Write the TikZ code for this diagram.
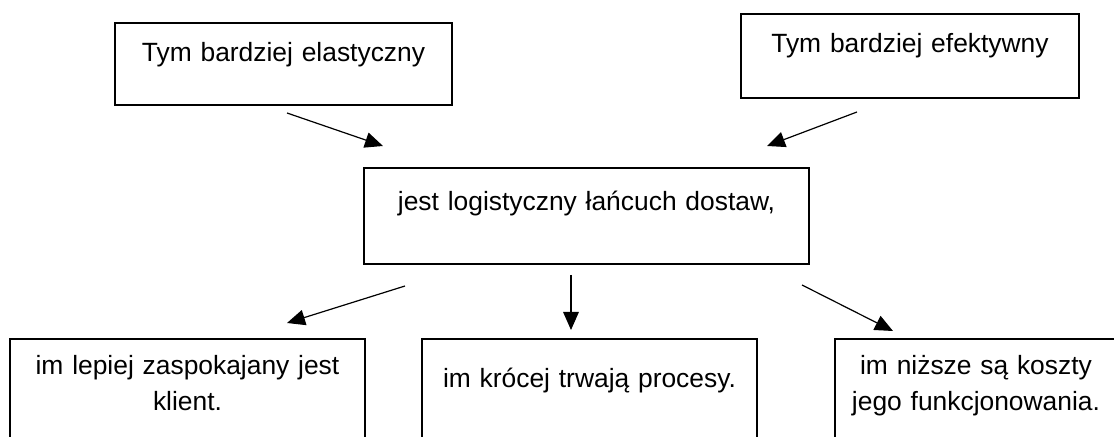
\documentclass[tikz,border=0pt]{standalone}
\usepackage{fontspec}
\setmainfont{Liberation Sans}
\usetikzlibrary{arrows.meta}
\tikzset{
  chainbox/.style={draw=black,line width=1pt,anchor=north west,inner sep=0pt,
    align=center,font=\fontsize{13.2}{18}\selectfont},
  chainarrow/.style={-{Triangle[length=9pt,width=7.8pt]},line width=0.6pt}
}
\begin{document}
\begin{tikzpicture}[x=0.5pt,y=-0.5pt]
  \useasboundingbox (0,0) rectangle (1114,437);
  \clip (0,0) rectangle (1114,437);
  % upper row
  \node[chainbox,text width=168.5pt,text height=19.5pt,text depth=21.5pt] (elastic) at (114,22) {Tym bardziej elastyczny};
  \node[chainbox,text width=169pt,text height=19.5pt,text depth=22.5pt] (efficient) at (740,13) {Tym bardziej efektywny};
  \node[chainbox,text width=222.5pt,text height=21.5pt,text depth=26.5pt] (chain) at (363,167) {jest logistyczny łańcuch dostaw,};
  % lower row
  \node[chainbox,text width=177.5pt,text height=18pt,text depth=53pt] (client) at (9,338) {im lepiej zaspokajany jest\\klient.};
  \node[chainbox,text width=167.5pt,text height=24.5pt,text depth=46.5pt] (process) at (421,338) {im krócej trwają procesy.};
  \node[chainbox,text width=141pt,text height=18pt,text depth=53pt] (cost) at (834,338) {im niższe są koszty\\jego funkcjonowania.};
  % arrow ends
  \coordinate (elastic-out) at (287,113);
  \coordinate (efficient-out) at (857,112);
  \coordinate (chain-in-l) at (383,146);
  \coordinate (chain-in-r) at (767,146);
  \coordinate (chain-out-l) at (405,286);
  \coordinate (chain-out-m) at (571,275);
  \coordinate (chain-out-r) at (802,285);
  \coordinate (client-in) at (287,323);
  \coordinate (process-in) at (571,330);
  \coordinate (cost-in) at (893,331);
  \draw[chainarrow] (elastic-out) -- (chain-in-l);
  \draw[chainarrow] (efficient-out) -- (chain-in-r);
  \draw[chainarrow] (chain-out-l) -- (client-in);
  \draw[chainarrow] (chain-out-m) -- (process-in);
  \draw[chainarrow] (chain-out-r) -- (cost-in);
\end{tikzpicture}
\end{document}
